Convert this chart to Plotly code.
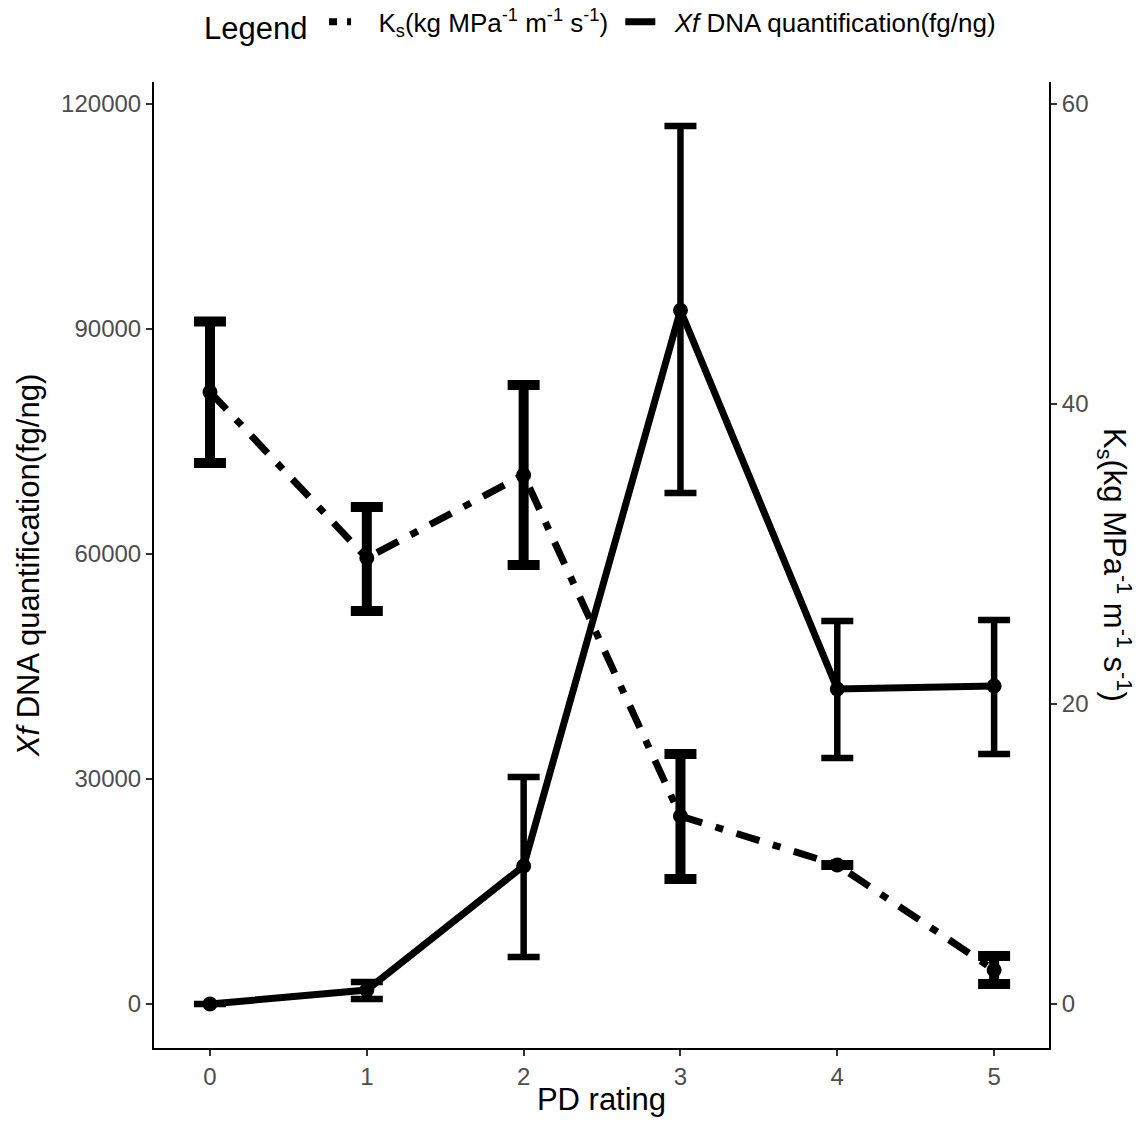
import plotly.graph_objects as go

pd_rating = [0, 1, 2, 3, 4, 5]

xf_mean = [0, 1867, 18400, 92500, 42000, 42400]
xf_upper = [0, 2933, 30267, 117067, 51067, 51200]
xf_lower = [0, 667, 6267, 68133, 32800, 33333]

ks_mean = [40.8, 29.73, 35.27, 12.53, 9.27, 2.27]
ks_upper = [45.5, 33.13, 41.27, 16.67, None, 3.2]
ks_lower = [36.07, 26.2, 29.27, 8.33, None, 1.33]

left_ticks = [0, 30000, 60000, 90000, 120000]
right_ticks = [0, 20, 40, 60]

xf_name = "<i>Xf</i> DNA quantification(fg/ng)"
ks_name = "K<sub>s</sub>(kg MPa<sup>-1</sup> m<sup>-1</sup> s<sup>-1</sup>)"

def diff(a, b):
    return [None if (u is None or v is None) else u - v for u, v in zip(a, b)]

FONT = "Liberation Sans, Arial, sans-serif"
KS_DASH = "24px,14px,8px,14px"

fig = go.Figure()

fig.add_trace(go.Scatter(
    x=pd_rating, y=ks_mean, name=ks_name, yaxis="y2",
    mode="lines+markers", showlegend=False,
    line=dict(color="black", width=7, dash=KS_DASH),
    marker=dict(color="black", size=15),
    error_y=dict(type="data", symmetric=False,
                 array=diff(ks_upper, ks_mean),
                 arrayminus=diff(ks_mean, ks_lower),
                 color="black", thickness=10, width=16),
))

fig.add_trace(go.Scatter(
    x=pd_rating, y=xf_mean, name=xf_name, yaxis="y",
    mode="lines+markers", showlegend=False,
    line=dict(color="black", width=7),
    marker=dict(color="black", size=15),
    error_y=dict(type="data", symmetric=False,
                 array=diff(xf_upper, xf_mean),
                 arrayminus=diff(xf_mean, xf_lower),
                 color="black", thickness=6.5, width=16),
))

# legend-only entries (line keys, no markers)
fig.add_trace(go.Scatter(x=[None], y=[None], name="\u00a0\u00a0" + ks_name + "\u00a0", mode="lines",
                         line=dict(color="black", width=7, dash="8px,10px,4px,10px")))
fig.add_trace(go.Scatter(x=[None], y=[None], name="\u00a0\u00a0" + xf_name, mode="lines",
                         line=dict(color="black", width=7)))

fig.update_layout(
    width=1130, height=1109,
    margin=dict(l=146, r=89, t=74, b=69, autoexpand=False),
    plot_bgcolor="white", paper_bgcolor="white",
    font=dict(family=FONT, color="black"),
    showlegend=True,
    legend=dict(orientation="h", x=0.5, xanchor="center",
                yref="container", y=0.9856, yanchor="middle",
                title=dict(text="Legend\u00a0", font=dict(size=31)),
                font=dict(size=26), itemwidth=30),
    xaxis=dict(range=[-0.357, 5.35], tickvals=pd_rating, showgrid=False, zeroline=False,
               showline=True, linecolor="black", linewidth=2,
               ticks="outside", ticklen=6, tickcolor="#333333", tickwidth=1.5,
               tickfont=dict(size=24, color="#4d4d4d"),
               title=dict(text="PD rating", font=dict(size=31), standoff=6)),
    yaxis=dict(range=[-5867, 122933], tickvals=left_ticks, tickformat="d",
               showgrid=False, zeroline=False,
               showline=True, linecolor="black", linewidth=2,
               ticks="outside", ticklen=6, tickcolor="#333333", tickwidth=1.5,
               tickfont=dict(size=24, color="#4d4d4d"),
               title=dict(text=xf_name, font=dict(size=31), standoff=12)),
    yaxis2=dict(range=[-2.9335, 61.4665], tickvals=right_ticks, overlaying="y", side="right",
                showgrid=False, zeroline=False,
                showline=True, linecolor="black", linewidth=2,
                ticks="outside", ticklen=6, tickcolor="#333333", tickwidth=1.5,
                tickfont=dict(size=24, color="#4d4d4d")),
    annotations=[dict(text=ks_name, textangle=90, xref="paper", yref="paper",
                      x=1.0, xshift=66, y=0.5, xanchor="center", yanchor="middle",
                      showarrow=False, font=dict(size=31, color="black"))],
)

fig.write_html("out.html")
